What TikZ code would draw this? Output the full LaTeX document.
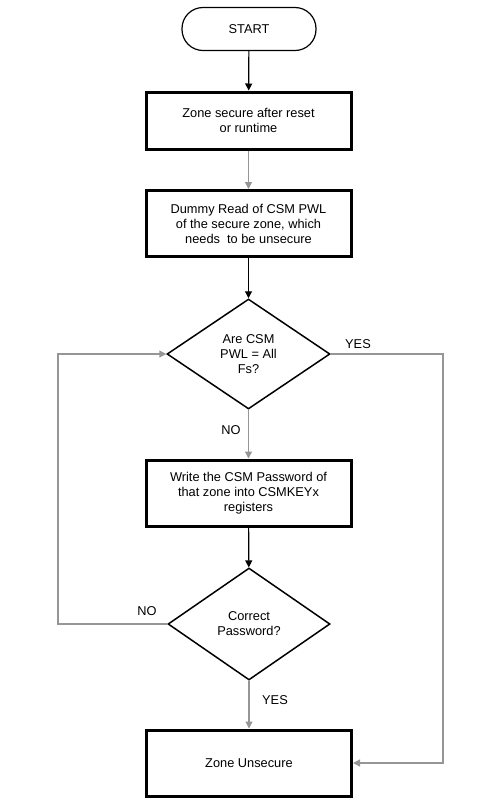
\documentclass[tikz,border=0pt]{standalone}
\usepackage{fontspec}
\setmainfont{Liberation Sans}
\usetikzlibrary{shapes.geometric,arrows.meta}
\definecolor{linegray}{RGB}{150,150,150}
\begin{document}
\begin{tikzpicture}[x=1pt,y=-1pt,
  font=\fontsize{12.8}{15}\selectfont,
  term/.style={draw, line width=1.2pt, rounded corners=21pt, minimum width=134pt, minimum height=43pt, inner sep=0pt},
  procbox/.style={draw, line width=3pt, minimum width=205pt, align=center, inner sep=0pt},
  decision/.style={draw, diamond, line width=1.5pt, align=center, inner sep=0pt},
  conn/.style={line width=1.2pt, -{Triangle[length=7pt,width=7pt]}},
  gconn/.style={conn, draw=linegray},
  lbl/.style={inner sep=0pt}
]
\useasboundingbox (0,0) rectangle (498,807);
\node[term] (start) at (249,29) {START};
\node[procbox, minimum height=57pt] (b1) at (248.5,120.5) {Zone secure after reset\\or runtime};
\node[procbox, minimum height=66pt] (b2) at (248.5,223.5) {Dummy Read of CSM PWL\\of the secure zone, which\\needs~~to be unsecure};
\node[decision, minimum width=163pt, minimum height=110pt] (d1) at (248.5,354) {Are CSM\\PWL = All\\Fs?};
\node[procbox, minimum height=66pt] (b3) at (248.5,493) {Write the CSM Password of\\that zone into CSMKEYx\\registers};
\node[decision, minimum width=162pt, minimum height=112pt] (d2) at (249,624) {Correct\\Password?};
\node[procbox, minimum height=66pt] (b4) at (249,763) {Zone Unsecure};

\coordinate (yr1) at (443,354);
\coordinate (yr2) at (443,763);
\coordinate (nl1) at (58,624);
\coordinate (nl2) at (58,354);

\draw[conn] (start) -- (b1);
\draw[gconn] (b1) -- (b2);
\draw[conn] (b2) -- (d1);
\draw[gconn] (d1) -- (b3);
\draw[conn] (b3) -- (d2);
\draw[gconn] (d2) -- (b4);
\draw[gconn] (d1.east) -- (yr1) -- (yr2) -- (b4.east);
\draw[gconn] (d2.west) -- (nl1) -- (nl2) -- (d1.west);

\node[lbl] (yes1) at (358,344) {YES};
\node[lbl] (no1) at (231,430) {NO};
\node[lbl] (no2) at (147,611) {NO};
\node[lbl] (yes2) at (275,700) {YES};
\end{tikzpicture}
\end{document}
